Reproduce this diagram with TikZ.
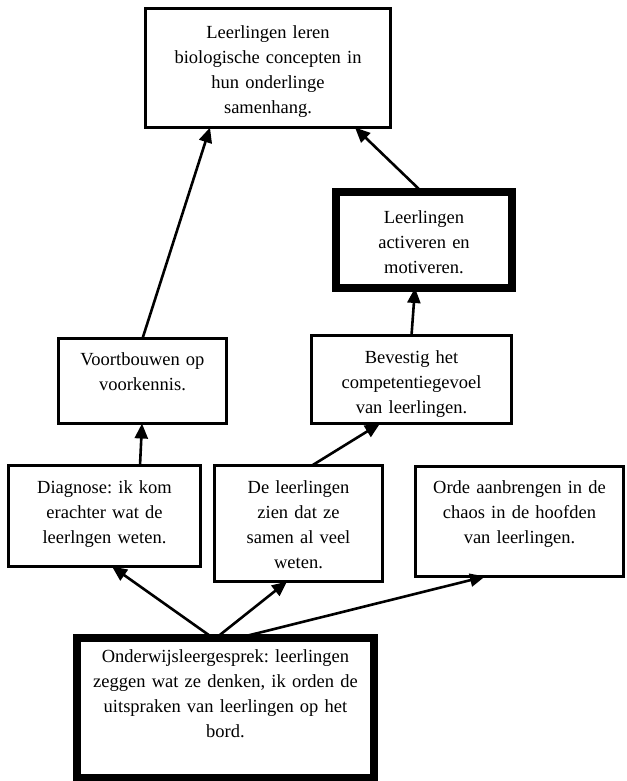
\documentclass[tikz,border=0pt]{standalone}
\usepackage{fontspec}
\setmainfont{Liberation Serif}
\usepackage{tikz}
\usetikzlibrary{arrows.meta}
\frenchspacing

\begin{document}
\begin{tikzpicture}[x=1pt, y=-1pt, >={Triangle[length=15pt,width=13pt]},
  box/.style={draw, line width=3pt, inner xsep=0pt, inner ysep=0pt, outer sep=0pt,
    anchor=north west, align=center, text height=27.5pt,
    font=\fontsize{18.5}{25}\selectfont},
  thickbox/.style={box, line width=8pt},
  link/.style={->, line width=2.6pt}]
\useasboundingbox (0,0) rectangle (626,781);

% node boxes
\node[box, text width=245pt, text height=30.5pt, text depth=88.5pt] (doel) at (145.5,8.5)
  {Leerlingen leren\\biologische concepten in\\hun onderlinge\\samenhang.};
\node[thickbox, text width=176pt, text height=31pt, text depth=65pt] (motiveren) at (336,192)
  {Leerlingen\\activeren en\\motiveren.};
\node[box, text width=168pt, text height=26.5pt, text depth=58.5pt] (voorkennis) at (58.5,338.5)
  {Voortbouwen op\\voorkennis.};
\node[box, text width=200pt, text depth=60.5pt] (competentie) at (311.5,335.5)
  {Bevestig het\\competentiegevoel\\van leerlingen.};
\node[box, text width=192pt, text depth=73.5pt] (diagnose) at (8.5,465.5)
  {Diagnose: ik kom\\erachter wat de\\leerlngen weten.};
\node[box, text width=168pt, text depth=88.5pt] (samen) at (214.5,465.5)
  {De leerlingen\\zien dat ze\\samen al veel\\weten.};
\node[box, text width=208pt, text height=26.5pt, text depth=83.5pt] (orde) at (415.5,466.5)
  {Orde aanbrengen in de\\chaos in de hoofden\\van leerlingen.};
\node[thickbox, text width=297pt, text height=24pt, text depth=116pt] (gesprek) at (77,638)
  {Onderwijsleergesprek: leerlingen\\zeggen wat ze denken, ik orden de\\uitspraken van leerlingen op het\\bord.};

% connections
\draw[link] ([xshift=-12.5]gesprek.north) -- ([xshift=7.5]diagnose.south);
\draw[link] ([xshift=-9.5]gesprek.north) -- ([xshift=-11.5]samen.south);
\draw[link] ([xshift=12.5]gesprek.north) -- ([xshift=-34.5]orde.south);
\draw[link] ([xshift=35.5]diagnose.north) -- ([xshift=-0.5]voorkennis.south);
\draw[link] ([xshift=13.5]samen.north) -- ([xshift=-31.5]competentie.south);
\draw[link] (voorkennis.north) -- ([xshift=-58]doel.south);
\draw[link] (competentie.north) -- ([xshift=-9]motiveren.south);
\draw[link] ([xshift=-2]motiveren.north) -- ([xshift=87]doel.south);

\end{tikzpicture}
\end{document}
